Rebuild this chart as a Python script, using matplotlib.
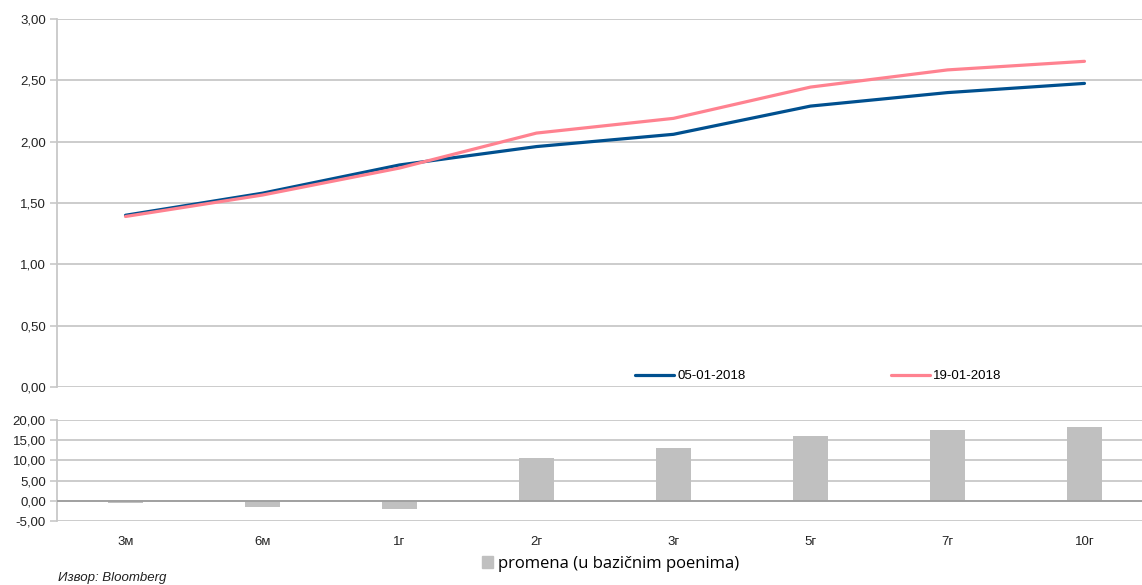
import matplotlib
matplotlib.use('Agg')
import matplotlib.pyplot as plt
from matplotlib.ticker import FuncFormatter
from matplotlib.patches import Patch
import numpy as np

# data
tenors = ['3м', '6м', '1г', '2г', '3г', '5г', '7г', '10г']
yield_0501 = [1.40, 1.58, 1.81, 1.96, 2.06, 2.29, 2.40, 2.475]
yield_1901 = [1.39, 1.565, 1.785, 2.07, 2.19, 2.445, 2.585, 2.655]
change_bp = [-0.5, -1.5, -2.0, 10.5, 13.1, 16.0, 17.5, 18.3]

label_a = '05-01-2018'
label_b = '19-01-2018'
bar_label = 'promena (u bazičnim poenima)'
source = 'Извор: Bloomberg'

blue = '#00508F'
pink = '#FF8290'
bar_col = '#C0C0C0'
grid_col = '#C8C8C8'

plt.rcParams['font.family'] = ['Liberation Sans', 'DejaVu Sans']

def comma_fmt(v, pos):
    return '{:.2f}'.format(v).replace('.', ',')

fig = plt.figure(figsize=(11.42, 5.85), dpi=100)
ax = fig.add_axes([57/1142, 1-387/585, 1-57/1142, (387-19)/585])
ax2 = fig.add_axes([57/1142, 1-521/585, 1-57/1142, (521-420)/585])

x = np.arange(len(tenors))

# top: yield curves
ax.plot(x, yield_0501, color=blue, lw=2.3, label=label_a, solid_capstyle='round', zorder=3)
ax.plot(x, yield_1901, color=pink, lw=2.3, label=label_b, solid_capstyle='round', zorder=3)
ax.set_ylim(0, 3)
ax.set_yticks(np.arange(0, 3.01, 0.5))
ax.set_xlim(-0.5, 7.42)
ax.set_xticks([])

# bottom: change in bp
ax2.bar(x, change_bp, width=0.26, color=bar_col, zorder=2)
ax2.axhline(0, color='#9A9A9A', lw=1.2, zorder=3)
ax2.set_ylim(-5, 20)
ax2.set_yticks(np.arange(-5, 20.1, 5))
ax2.set_xlim(-0.5, 7.42)
ax2.set_xticks(x)
ax2.set_xticklabels(tenors)

for a in (ax, ax2):
    a.yaxis.set_major_formatter(FuncFormatter(comma_fmt))
    a.grid(axis='y', color=grid_col, lw=1.3, zorder=0)
    a.set_axisbelow(True)
    for s in ['top', 'right', 'bottom']:
        a.spines[s].set_visible(False)
    a.spines['left'].set_color(grid_col)
    a.spines['left'].set_linewidth(1.3)
    a.tick_params(axis='y', length=5, width=1.2, color=grid_col, labelsize=9.5,
                  labelcolor='#222222', pad=3)
    a.tick_params(axis='x', length=0, labelsize=9.5, labelcolor='#222222', pad=11)

fig.legend(handles=ax.get_lines(), loc='center', bbox_to_anchor=(818/1142, 1-376/585),
           ncol=2, frameon=False, fontsize=9.5, handlelength=3.0, handletextpad=0.2,
           columnspacing=11.0, borderpad=0)

fig.legend(handles=[Patch(color=bar_col, label=bar_label)], loc='center',
           bbox_to_anchor=(611/1142, 1-564/585), frameon=False, borderpad=0,
           prop={'family': 'Open Sans', 'size': 12}, handlelength=0.66,
           handleheight=0.7, handletextpad=0.3)

fig.text(58/1142, 1-578/585, source, fontsize=9.5, style='italic', color='#222222',
         va='center', ha='left')

fig.savefig('out.png', dpi=100)
